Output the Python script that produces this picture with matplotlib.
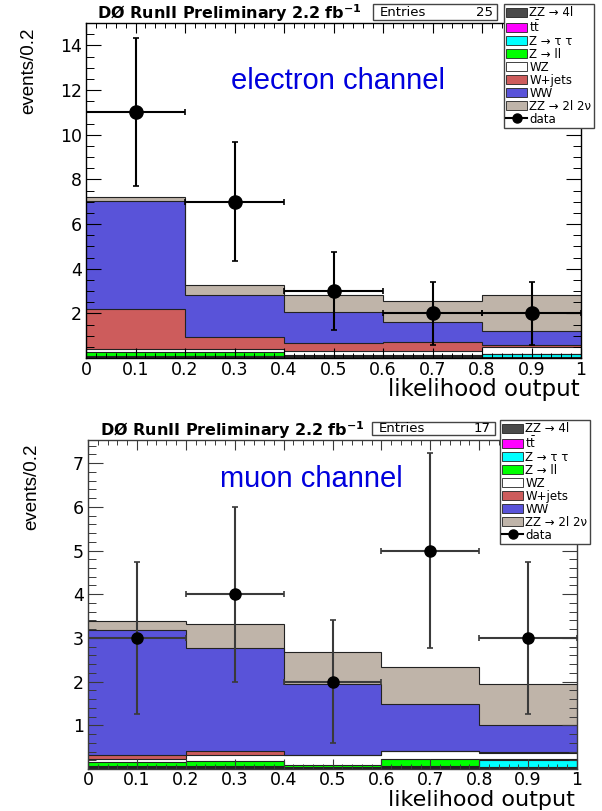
import matplotlib
matplotlib.use("Agg")
import matplotlib.pyplot as plt
from matplotlib.patches import Patch, Rectangle
from matplotlib.lines import Line2D
import numpy as np

plt.rcParams['font.family'] = ['DejaVu Sans']

# ---- binning ----
edges = [0.0, 0.2, 0.4, 0.6, 0.8, 1.0]
centers = [0.1, 0.3, 0.5, 0.7, 0.9]
tick_labels_x = ["0", "0.1", "0.2", "0.3", "0.4", "0.5", "0.6", "0.7", "0.8", "0.9", "1"]

# ---- backgrounds, stacked bottom -> top ----
process_names = ["ZZ → 4l", r"$\mathrm{t\bar{t}}$", "Z → τ τ", "Z → ll",
                 "WZ", "W+jets", "WW", "ZZ → 2l 2ν"]
process_colors = ["#4a4a4a", "#ff00ff", "#00ffff", "#00ff00",
                  "#ffffff", "#cd5c5c", "#5953d9", "#bfb4a9"]

# electron channel expectations per bin
ele_zz4l  = [0.02, 0.03, 0.03, 0.02, 0.02]
ele_ttbar = [0.04, 0.04, 0.02, 0.01, 0.02]
ele_ztt   = [0.02, 0.03, 0.03, 0.05, 0.14]
ele_zll   = [0.19, 0.16, 0.05, 0.04, 0.01]
ele_wz    = [0.12, 0.15, 0.20, 0.20, 0.29]
ele_wjets = [1.81, 0.52, 0.35, 0.38, 0.12]
ele_ww    = [4.85, 1.87, 1.40, 0.93, 0.62]
ele_zz2l  = [0.17, 0.48, 0.74, 0.93, 1.60]
ele_data  = [11, 7, 3, 2, 2]
ele_err   = [3.32, 2.65, 1.73, 1.41, 1.41]

# muon channel expectations per bin
mu_zz4l  = [0.03, 0.03, 0.02, 0.03, 0.02]
mu_ttbar = [0.02, 0.02, 0.01, 0.02, 0.02]
mu_ztt   = [0.01, 0.01, 0.01, 0.03, 0.16]
mu_zll   = [0.10, 0.12, 0.05, 0.15, 0.02]
mu_wz    = [0.08, 0.14, 0.22, 0.18, 0.15]
mu_wjets = [0.08, 0.10, 0.01, 0.01, 0.01]
mu_ww    = [2.87, 2.36, 1.63, 1.06, 0.62]
mu_zz2l  = [0.20, 0.53, 0.73, 0.86, 0.95]
mu_data  = [3, 4, 2, 5, 3]
mu_err   = [1.73, 2.00, 1.41, 2.24, 1.73]

W, H = 602, 811
fig = plt.figure(figsize=(W / 100, H / 100), dpi=100)


def fx(px):
    return px / W


def fy(py):
    return 1 - py / H


def panel(rect, comps, data, err, ylim, ymajor, yminor, spine_col,
          ms, entries, channel, chan_xy, title_xy, entries_box,
          legend_xy, xlabel_xy, ylabel_xy, xpad, xlabel_size):
    l, t, r, b = rect
    ax = fig.add_axes([fx(l), fy(b), fx(r - l), (b - t) / H])
    bottom = np.zeros(len(centers))
    for vals, col in zip(comps, process_colors):
        top = bottom + np.asarray(vals)
        ax.stairs(top, edges, baseline=bottom, fill=True, color=col, lw=0, zorder=1)
        ax.stairs(top, edges, baseline=None, color="#222222", lw=0.8, zorder=1.5)
        bottom = top

    ax.errorbar(centers, data, xerr=0.1, yerr=err, fmt="o", color="black",
                ecolor=spine_col, ms=ms, elinewidth=1.5, capsize=2.5,
                capthick=1.2, zorder=4)

    ax.set_xlim(0, 1)
    ax.set_ylim(*ylim)
    ax.set_xticks(np.arange(0, 1.0001, 0.1))
    ax.set_xticklabels(tick_labels_x)
    ax.set_xticks(np.arange(0, 1.0001, 0.02), minor=True)
    ax.set_yticks(ymajor)
    ax.set_yticklabels([str(v) for v in ymajor])
    ax.set_yticks(yminor, minor=True)
    ax.tick_params(which="both", direction="in", top=True, right=True,
                   color=spine_col, labelsize=12.5)
    ax.xaxis.set_tick_params(which="major", length=7.5, width=0.8, pad=xpad)
    ax.xaxis.set_tick_params(which="minor", length=3.8, width=0.7)
    ax.yaxis.set_tick_params(which="major", length=11, width=0.8, pad=3)
    ax.yaxis.set_tick_params(which="minor", length=6, width=0.7)
    for s in ax.spines.values():
        s.set_color(spine_col)
        s.set_linewidth(1.0)

    # experiment label
    fig.text(fx(title_xy[0]), fy(title_xy[1]),
             r"DØ RunII Preliminary 2.2 fb$^{\mathbf{-1}}$",
             fontsize=11.5, fontweight="bold", ha="left", va="center")

    # entries box
    bx0, by0, bx1, by1 = entries_box
    fig.add_artist(Rectangle((fx(bx0), fy(by1)), fx(bx1 - bx0), (by1 - by0) / H,
                             transform=fig.transFigure, facecolor="white",
                             edgecolor="#444444", lw=1.0, zorder=6))
    fig.text(fx(bx0 + 7), fy((by0 + by1) / 2), "Entries", fontsize=9.5,
             ha="left", va="center", zorder=7)
    fig.text(fx(bx1 - 4), fy((by0 + by1) / 2), str(entries), fontsize=9.5,
             ha="right", va="center", zorder=7)

    # legend, listed top -> bottom
    handles = [Patch(facecolor=c, edgecolor="#222222", lw=0.6)
               for c in process_colors]
    handles.append(Line2D([], [], color="black", marker="o", ms=6.5, lw=1.5))
    labels = list(process_names) + ["data"]
    leg = ax.legend(handles, labels, loc="upper left",
                    bbox_to_anchor=(fx(legend_xy[0]), fy(legend_xy[1])),
                    bbox_transform=fig.transFigure, fontsize=8.5,
                    frameon=True, fancybox=False, edgecolor="#444444",
                    framealpha=1, borderpad=0.2, labelspacing=0.0,
                    handlelength=1.75, handleheight=0.85,
                    handletextpad=0.2, borderaxespad=0)
    leg.get_frame().set_linewidth(1.0)
    leg.set_zorder(8)

    # channel tag
    fig.text(fx(chan_xy[0]), fy(chan_xy[1]), channel, fontsize=21,
             color="#0000dd", ha="center", va="baseline",
             family=["Liberation Sans", "DejaVu Sans"])

    # axis titles
    fig.text(fx(xlabel_xy[0]), fy(xlabel_xy[1]), "likelihood output",
             fontsize=xlabel_size, ha="right", va="baseline")
    fig.text(fx(ylabel_xy[0]), fy(ylabel_xy[1]), "events/0.2", fontsize=13.5,
             rotation=90, ha="center", va="top",
             family=["Liberation Sans", "DejaVu Sans"])
    return ax


ele_comps = [ele_zz4l, ele_ttbar, ele_ztt, ele_zll, ele_wz, ele_wjets, ele_ww, ele_zz2l]
mu_comps = [mu_zz4l, mu_ttbar, mu_ztt, mu_zll, mu_wz, mu_wjets, mu_ww, mu_zz2l]

panel(rect=(86, 23, 581, 358), comps=ele_comps, data=ele_data, err=ele_err,
      ylim=(0, 15), ymajor=[2, 4, 6, 8, 10, 12, 14],
      yminor=np.arange(0, 15.01, 0.5), spine_col="black", ms=9.5,
      entries=25, channel="electron channel", chan_xy=(338, 89),
      title_xy=(97, 13), entries_box=(373, 4, 497, 20),
      legend_xy=(504, 4), xlabel_xy=(580, 396), ylabel_xy=(29, 28),
      xpad=2.5, xlabel_size=16.5)

panel(rect=(88, 440, 577, 769), comps=mu_comps, data=mu_data, err=mu_err,
      ylim=(0, 7.53), ymajor=[1, 2, 3, 4, 5, 6, 7],
      yminor=np.arange(0, 7.53, 0.2), spine_col="#3a3a3a", ms=8,
      entries=17, channel="muon channel", chan_xy=(311, 487),
      title_xy=(100, 430), entries_box=(372, 422, 495, 435),
      legend_xy=(500, 420), xlabel_xy=(575, 806), ylabel_xy=(32, 443),
      xpad=1.5, xlabel_size=16)

fig.savefig("out.png", dpi=100)
